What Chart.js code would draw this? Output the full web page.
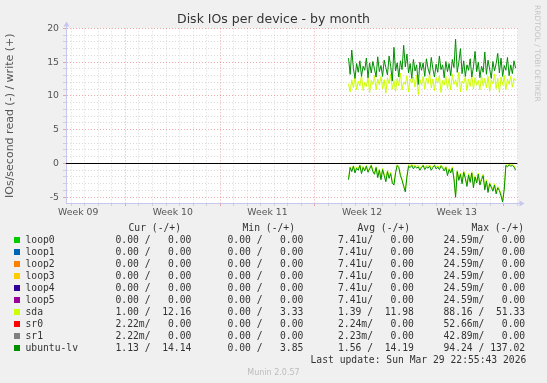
<!DOCTYPE html>
<html>
<head>
<meta charset="utf-8">
<script src="https://cdn.jsdelivr.net/npm/chart.js@4.4.1/dist/chart.umd.min.js"></script>
<style>
  body { margin: 0; background: #f0f0f0; }
  #wrap { position: relative; width: 547px; height: 383px; background: #f0f0f0; overflow: hidden; }
  #chart { position: absolute; left: 0; top: 0; }
  .lg { position: absolute; font-family: "DejaVu Sans Mono", monospace; font-size: 9.7px; color: #333; white-space: pre; line-height: 12px; }
  .sq { position: absolute; width: 6px; height: 6px; }
  #rrd { position: absolute; left: 533px; top: 5px; writing-mode: vertical-rl; font: 7.5px "DejaVu Sans", sans-serif; color: #c4c4c4; }
  #munin { position: absolute; top: 367px; left: 0; width: 547px; text-align: center; font: 8px "DejaVu Sans", sans-serif; color: #bdbdbd; line-height: 12px; }
</style>
</head>
<body>
<div id="wrap">
  <canvas id="chart" width="547" height="230"></canvas>
  <div id="rrd">RRDTOOL / TOBI OETIKER</div>
  <div id="legend"></div>
  <div id="munin">Munin 2.0.57</div>
</div>
<script>
// x axis: days, week boundaries at 0, 7, 14, 21, 28
const weekLabels = ['Week 09', 'Week 10', 'Week 11', 'Week 12', 'Week 13'];
const weekMid = [-3.5, 3.5, 10.5, 17.5, 24.5];
const startDay = 16.5;
const stepDay = 0.12;

// ubuntu-lv write (+)
const lvWrite = [
  15.6, 13.2, 16.8, 14.1, 12.6, 14.8, 13.5, 15.2, 12.9, 14.4,
  13.8, 15.6, 12.7, 14.9, 13.4, 15.1, 14.0, 12.8, 15.8, 13.6,
  14.5, 12.9, 15.3, 14.2, 13.1, 15.9, 14.4, 12.2, 17.2, 13.7,
  14.9, 12.8, 15.2, 13.9, 17.5, 14.3, 16.2, 13.4, 14.8, 12.6,
  15.4, 13.7, 14.6, 11.7, 15.0, 13.8, 14.9, 12.9, 15.5, 14.1,
  13.2, 15.7, 14.0, 12.8, 14.7, 13.5, 15.9, 13.9, 14.6, 12.7,
  15.1, 13.6, 14.8, 13.0, 15.4, 14.2, 18.4, 13.5, 15.0, 17.0,
  13.3, 15.2, 12.9, 14.6, 13.8, 15.5, 12.8, 14.3, 16.6, 13.6,
  15.0, 12.7, 14.4, 13.5, 16.5, 13.2, 15.3, 14.0, 12.6, 15.1,
  13.7, 14.8, 16.3, 13.4, 15.6, 12.9, 14.5, 13.8, 15.7, 13.0,
  14.6, 13.3, 15.2, 14.1
];
// sda write (+)
const sdaWrite = [
  11.8, 10.6, 12.4, 11.2, 12.9, 10.9, 12.2, 11.5, 13.1, 10.8,
  12.0, 11.4, 12.8, 10.5, 12.3, 11.7, 13.0, 10.9, 12.5, 11.6,
  12.9, 11.1, 12.4, 10.4, 12.7, 11.8, 13.2, 11.0, 12.3, 10.7,
  12.6, 11.5, 13.4, 10.9, 12.1, 11.7, 13.0, 10.6, 12.5, 11.9,
  12.8, 11.3, 13.1, 10.2, 12.4, 11.6, 12.9, 11.0, 12.6, 11.8,
  13.3, 11.2, 12.5, 10.8, 12.7, 11.9, 13.0, 10.5, 12.3, 11.6,
  12.9, 11.1, 12.6, 10.9, 13.2, 11.7, 12.4, 11.3, 13.5, 10.6,
  12.2, 11.8, 12.9, 10.8, 12.5, 11.4, 13.1, 11.0, 12.7, 11.6,
  12.3, 10.9, 13.0, 11.5, 12.6, 11.2, 12.9, 10.7, 12.4, 11.8,
  13.2, 11.1, 12.6, 10.5, 12.8, 11.6, 13.0, 10.9, 12.5, 11.7,
  12.9, 11.3, 12.6, 12.2
];
// ubuntu-lv read (-)
const lvRead = [
  -2.4, -0.6, -1.2, -0.4, -1.4, -0.7, -1.0, -0.3, -1.5, -0.6,
  -1.1, -0.4, -1.3, -0.8, -0.3, -1.2, -1.6, -0.6, -2.1, -1.0,
  -2.4, -0.9, -1.8, -2.7, -1.2, -2.2, -1.5, -2.9, -3.2, -1.4,
  -0.3, -0.6, -1.8, -2.5, -3.4, -4.2, -2.0, -0.4, -0.6, -0.3,
  -0.8, -0.4, -0.7, -0.5, -1.0, -0.6, -0.3, -0.9, -0.5, -0.7,
  -0.4, -1.0, -0.6, -0.3, -0.8, -0.5, -0.9, -0.4, -0.7, -1.1,
  -0.6, -1.8, -0.9, -1.4, -0.7, -2.3, -5.0, -1.2, -2.5, -1.6,
  -3.0, -1.3, -2.2, -3.4, -1.7, -2.8, -1.4, -3.6, -2.0, -2.9,
  -1.6, -3.2, -2.4, -1.8, -3.9, -2.6, -4.3, -3.0, -3.5, -4.1,
  -3.2, -4.5, -3.6, -4.0, -4.8, -5.7, -3.8, -0.3, -0.5, -0.2,
  -0.4, -0.3, -0.5, -1.0
];
// sda read (-)
const sdaRead = [
  -2.2, -0.5, -1.0, -0.3, -1.2, -0.5, -0.8, -0.2, -1.3, -0.4,
  -0.9, -0.3, -1.1, -0.6, -0.2, -1.0, -1.4, -0.5, -1.9, -0.8,
  -2.2, -0.7, -1.6, -2.5, -1.0, -2.0, -1.3, -2.7, -3.0, -1.2,
  -0.2, -0.4, -1.6, -2.3, -3.2, -3.9, -1.8, -0.2, -0.3, -0.1,
  -0.5, -0.2, -0.4, -0.3, -0.7, -0.4, -0.2, -0.6, -0.3, -0.5,
  -0.2, -0.7, -0.4, -0.2, -0.5, -0.3, -0.6, -0.2, -0.5, -0.8,
  -0.4, -1.5, -0.7, -1.2, -0.5, -2.1, -4.7, -1.0, -2.3, -1.4,
  -2.7, -1.1, -2.0, -3.1, -1.5, -2.6, -1.2, -3.3, -1.8, -2.7,
  -1.4, -2.9, -2.2, -1.6, -3.6, -2.4, -4.0, -2.8, -3.3, -3.8,
  -3.0, -4.2, -3.4, -3.8, -4.5, -5.4, -3.6, -0.2, -0.3, -0.1,
  -0.2, -0.2, -0.3, -0.8
];
// loop*, sr0, sr1 stay at zero over the data period
const flatDays = [16.5, 28.86];
const flatValues = [0, 0];

// legend table
const names = ['loop0', 'loop1', 'loop2', 'loop3', 'loop4', 'loop5', 'sda', 'sr0', 'sr1', 'ubuntu-lv'];
const colors = ['#00CC00', '#0066B3', '#FF8000', '#FFCC00', '#330099', '#990099', '#CCFF00', '#FF0000', '#808080', '#008F00'];
const curText = ['0.00 /   0.00', '0.00 /   0.00', '0.00 /   0.00', '0.00 /   0.00', '0.00 /   0.00', '0.00 /   0.00', '1.00 /  12.16', '2.22m/   0.00', '2.22m/   0.00', '1.13 /  14.14'];
const minText = ['0.00 /   0.00', '0.00 /   0.00', '0.00 /   0.00', '0.00 /   0.00', '0.00 /   0.00', '0.00 /   0.00', '0.00 /   3.33', '0.00 /   0.00', '0.00 /   0.00', '0.00 /   3.85'];
const avgText = ['7.41u/   0.00', '7.41u/   0.00', '7.41u/   0.00', '7.41u/   0.00', '7.41u/   0.00', '7.41u/   0.00', '1.39 /  11.98', '2.24m/   0.00', '2.23m/   0.00', '1.56 /  14.19'];
const maxText = ['24.59m/   0.00', '24.59m/   0.00', '24.59m/   0.00', '24.59m/   0.00', '24.59m/   0.00', '24.59m/   0.00', '88.16 /  51.33', '52.66m/   0.00', '42.89m/   0.00', '94.24 / 137.02'];
const lastUpdate = 'Last update: Sun Mar 29 22:55:43 2026';

const times = lvWrite.map((_, i) => startDay + i * stepDay);
const pts = (xs, ys) => ys.map((y, i) => ({ x: xs[i], y: y }));

const RED = 'rgba(225,100,100,0.55)';
const GRAY = 'rgba(170,170,170,0.45)';
const AXIS = '#c6c6ee';

function line(color, data, order) {
  return { data: data, borderColor: color, borderWidth: 1, pointRadius: 0, tension: 0, fill: false, order: order };
}

const datasets = [
  line('#000000', pts([-4.4, 29.0], [0, 0]), 0),
  line(colors[9], pts(times, lvWrite), 1),
  line(colors[9], pts(times, lvRead), 1),
  line(colors[6], pts(times, sdaWrite), 2),
  line(colors[6], pts(times, sdaRead), 2)
];
[0, 1, 2, 3, 4, 5, 7, 8].forEach(i => datasets.push(line(colors[i], pts(flatDays, flatValues), 3)));

const plotBg = {
  id: 'plotBg',
  beforeDraw(chart) {
    const { ctx, chartArea: a } = chart;
    ctx.save();
    ctx.fillStyle = '#ffffff';
    ctx.fillRect(a.left, a.top, a.right - a.left, a.bottom - a.top);
    ctx.restore();
  },
  afterDraw(chart) {
    const { ctx, chartArea: a } = chart;
    const l = Math.round(a.left) + 0.5, b = Math.round(a.bottom) + 0.5;
    ctx.save();
    ctx.strokeStyle = AXIS;
    ctx.fillStyle = AXIS;
    ctx.lineWidth = 1;
    ctx.beginPath();
    ctx.moveTo(l, a.top); ctx.lineTo(l, a.top - 4);
    ctx.moveTo(a.right, b); ctx.lineTo(a.right + 4, b);
    ctx.stroke();
    ctx.beginPath();
    ctx.moveTo(l, a.top - 7); ctx.lineTo(l - 3, a.top - 2); ctx.lineTo(l + 3, a.top - 2);
    ctx.closePath(); ctx.fill();
    ctx.beginPath();
    ctx.moveTo(a.right + 7, b); ctx.lineTo(a.right + 2, b - 3); ctx.lineTo(a.right + 2, b + 3);
    ctx.closePath(); ctx.fill();
    ctx.restore();
  }
};

new Chart(document.getElementById('chart'), {
  type: 'line',
  data: { datasets: datasets },
  options: {
    responsive: false,
    animation: false,
    layout: { padding: 0 },
    plugins: {
      legend: { display: false },
      tooltip: { enabled: false },
      title: {
        display: true,
        text: 'Disk IOs per device - by month',
        color: '#333',
        font: { family: 'DejaVu Sans', size: 12.5, weight: 'normal' },
        padding: { top: 12, bottom: 1.4 }
      }
    },
    scales: {
      x: {
        type: 'linear',
        min: -4.4,
        max: 29.0,
        afterBuildTicks: s => {
          const t = [];
          for (let v = -4; v <= 29; v += 0.5) t.push({ value: v });
          s.ticks = t;
        },
        afterFit: s => { s.height = 27; },
        ticks: {
          autoSkip: false,
          maxRotation: 0,
          padding: 1,
          color: '#555',
          font: { family: 'DejaVu Sans', size: 9.3 },
          callback: v => {
            const i = weekMid.indexOf(v);
            return i >= 0 ? weekLabels[i] : '';
          }
        },
        grid: {
          tickLength: 3,
          color: c => {
            const v = c.tick.value;
            if (v % 7 === 0) return RED;
            if (Number.isInteger(v)) return GRAY;
            return 'rgba(0,0,0,0)';
          }
        },
        border: { display: true, color: AXIS, dash: [1, 2] }
      },
      y: {
        min: -5.85,
        max: 20,
        afterBuildTicks: s => {
          const t = [];
          for (let v = -5; v <= 20; v++) t.push({ value: v });
          s.ticks = t;
        },
        afterFit: s => { s.width = 66; },
        ticks: {
          autoSkip: false,
          padding: 4,
          color: '#555',
          font: { family: 'DejaVu Sans', size: 9.3 },
          callback: v => (v % 5 === 0 ? String(v) : '')
        },
        grid: {
          tickLength: 3,
          color: c => (c.tick.value % 5 === 0 ? RED : GRAY)
        },
        border: { display: true, color: AXIS, dash: [1, 2] },
        title: {
          display: true,
          text: 'IOs/second read (-) / write (+)',
          color: '#555',
          font: { family: 'DejaVu Sans', size: 11 },
          padding: { top: 4, bottom: 0 }
        }
      },
      // empty right-hand gutter, keeps the title centred on the whole image
      yRight: {
        position: 'right',
        min: -5.85,
        max: 20,
        afterFit: s => { s.width = 29.5; },
        ticks: { display: false },
        grid: { display: false, drawTicks: false },
        border: { display: false }
      }
    }
  },
  plugins: [plotBg]
});

// legend below the plot
const lg = document.getElementById('legend');
function put(text, x, yc) {
  const d = document.createElement('div');
  d.className = 'lg';
  d.textContent = text;
  d.style.left = x + 'px';
  d.style.top = (yc - 6) + 'px';
  lg.appendChild(d);
}
put('Cur (-/+)', 128.5, 227.7);
put('Min (-/+)', 242.5, 227.7);
put('Avg (-/+)', 357.5, 227.7);
put('Max (-/+)', 471.5, 227.7);
names.forEach((n, i) => {
  const yc = 239.7 + i * 12;
  const sq = document.createElement('div');
  sq.className = 'sq';
  sq.style.background = colors[i];
  sq.style.left = '14px';
  sq.style.top = (yc - 3) + 'px';
  lg.appendChild(sq);
  put(n, 25.5, yc);
  put(curText[i], 115.5, yc);
  put(minText[i], 227.5, yc);
  put(avgText[i], 338, yc);
  put(maxText[i], 443.5, yc);
});
put(lastUpdate, 310.5, 359.7);
</script>
</body>
</html>
